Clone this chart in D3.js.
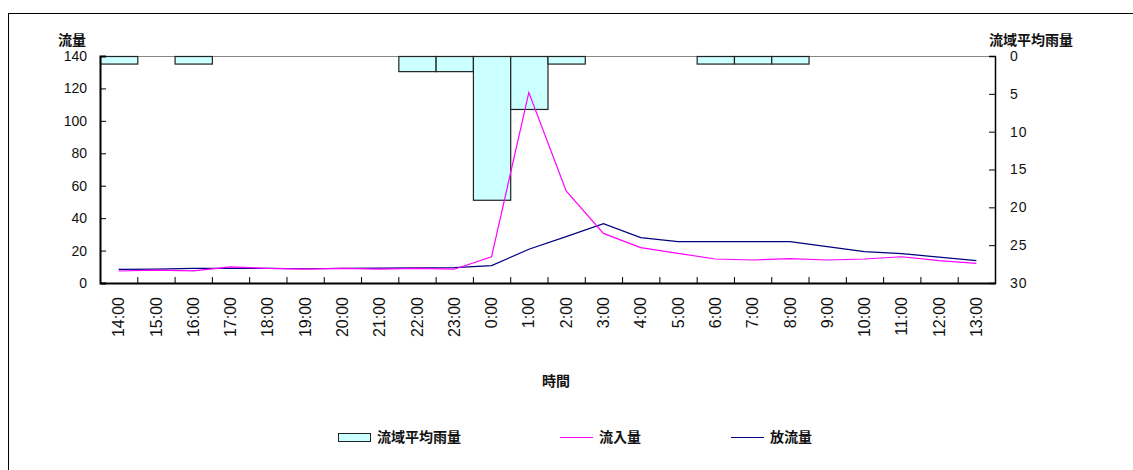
<!DOCTYPE html>
<html><head><meta charset="utf-8">
<script src="https://cdn.jsdelivr.net/npm/d3@7"></script>
<style>
body{margin:0;background:#fff;}
text{font-family:"Liberation Sans","Noto Sans CJK JP",sans-serif;fill:#111;}
</style></head>
<body>
<svg id="c" width="1133" height="470"></svg>
<script>
const categories = ["14:00","15:00","16:00","17:00","18:00","19:00","20:00","21:00","22:00","23:00","0:00","1:00","2:00","3:00","4:00","5:00","6:00","7:00","8:00","9:00","10:00","11:00","12:00","13:00"];
const rainfall = [1,0,1,0,0,0,0,0,2,2,19,7,1,0,0,0,1,1,1,0,0,0,0,0];
const inflow  = [7.4,8,7.5,10,9,8.5,9,8.5,9,8.5,16.2,117.5,56.8,30.6,21.8,18.3,14.8,14.2,15,14.2,14.8,16.2,13.8,12.1];
const outflow = [8.4,8.5,9,9,9,8.8,9,9.2,9.3,9.5,10.7,20.8,28.6,36.6,28,25.5,25.5,25.5,25.5,22.4,19.3,18.1,16,13.8];
const leftTicks = [0,20,40,60,80,100,120,140];
const rightTicks = [0,5,10,15,20,25,30];

const svg = d3.select("#c");
const L=100,R=995,T=56,B=283;

svg.append("rect").attr("x",8.5).attr("y",13.5).attr("width",1140).attr("height",470)
  .attr("fill","none").attr("stroke","#000").attr("stroke-width",1);

const x = d3.scaleBand().domain(categories).range([L,R]).padding(0);
const yL = d3.scaleLinear().domain([0,140]).range([B,T]);
const yR = d3.scaleLinear().domain([0,30]).range([T,B]);

svg.append("line").attr("x1",L).attr("x2",R).attr("y1",T+0.5).attr("y2",T+0.5).attr("stroke","#888").attr("stroke-width",1);

svg.append("g").selectAll("rect").data(rainfall.map((v,i)=>({v,c:categories[i]})).filter(d=>d.v>0))
  .join("rect")
  .attr("x",d=>x(d.c)+0.5).attr("y",yR(0)+0.5)
  .attr("width",x.bandwidth()).attr("height",d=>yR(d.v)-yR(0))
  .attr("fill","#ccffff").attr("stroke","#222").attr("stroke-width",1.2);

const gl = svg.append("g").attr("transform",`translate(${L},0)`)
  .call(d3.axisLeft(yL).tickValues(leftTicks).tickSize(-6).tickPadding(13));
gl.select(".domain").attr("stroke","#000").attr("stroke-width",2);
gl.selectAll(".tick line").attr("stroke","#000");
gl.selectAll("text").attr("font-size",14).attr("fill","#111");

const gr = svg.append("g").attr("transform",`translate(${R},0)`)
  .call(d3.axisRight(yR).tickValues(rightTicks).tickSize(-6).tickPadding(15));
gr.select(".domain").attr("stroke","#000").attr("stroke-width",1.5);
gr.selectAll("text").attr("font-size",14).attr("fill","#111").attr("letter-spacing","1px");

const gb = svg.append("g").attr("transform",`translate(0,${B})`)
  .call(d3.axisBottom(x).tickSize(0).tickPadding(0));
gb.select(".domain").attr("stroke","#000").attr("stroke-width",2);
gb.selectAll("text").attr("font-size",16).attr("fill","#111")
  .attr("transform","rotate(-90)").attr("text-anchor","end")
  .attr("x",-14).attr("y",0).attr("dy","0.35em");
svg.append("g").selectAll("line").data(categories.slice(1))
  .join("line").attr("x1",d=>x(d)+0.5).attr("x2",d=>x(d)+0.5)
  .attr("y1",B).attr("y2",B-6).attr("stroke","#000");

const lineGen = d3.line().x((d,i)=>x(categories[i])+x.bandwidth()/2).y(d=>yL(d));
svg.append("path").datum(outflow).attr("d",lineGen).attr("fill","none").attr("stroke","#000080").attr("stroke-width",1.2);
svg.append("path").datum(inflow).attr("d",lineGen).attr("fill","none").attr("stroke","#ff00ff").attr("stroke-width",1.2);

svg.append("text").attr("x",72).attr("y",45).attr("text-anchor","middle").attr("font-size",14).attr("font-weight","bold").text("流量");
svg.append("text").attr("x",1031).attr("y",45).attr("text-anchor","middle").attr("font-size",14).attr("font-weight","bold").text("流域平均雨量");
svg.append("text").attr("x",556).attr("y",386).attr("text-anchor","middle").attr("font-size",14).attr("font-weight","bold").text("時間");

const lg = svg.append("g");
lg.append("rect").attr("x",338.5).attr("y",433.5).attr("width",32).attr("height",8).attr("fill","#ccffff").attr("stroke","#222");
lg.append("text").attr("x",377).attr("y",442).attr("font-size",14).attr("font-weight","bold").text("流域平均雨量");
lg.append("line").attr("x1",560).attr("x2",593).attr("y1",437.5).attr("y2",437.5).attr("stroke","#ff00ff").attr("stroke-width",1.2);
lg.append("text").attr("x",599).attr("y",442).attr("font-size",14).attr("font-weight","bold").text("流入量");
lg.append("line").attr("x1",731).attr("x2",764).attr("y1",437.5).attr("y2",437.5).attr("stroke","#000080").attr("stroke-width",1.2);
lg.append("text").attr("x",770).attr("y",442).attr("font-size",14).attr("font-weight","bold").text("放流量");
</script>
</body></html>
